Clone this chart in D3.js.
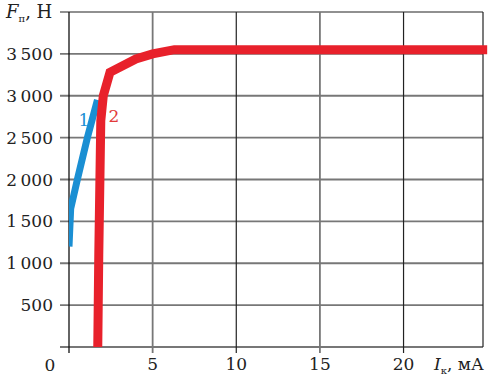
<!DOCTYPE html>
<html>
<head>
<meta charset="utf-8">
<script src="https://cdn.jsdelivr.net/npm/d3@7"></script>
<style>
  body { margin: 0; background: #fff; }
</style>
</head>
<body>
<script>
const width = 490, height = 380;

// curve 1 (blue) and curve 2 (red): I_k, mA -> F_p, N
const curve1I = [0, 0.1, 0.5, 1.1, 1.7];
const curve1F = [1200, 1650, 2000, 2500, 2950];
const curve2I = [1.72, 1.78, 1.9, 2.05, 2.45, 4, 5, 6.3, 25];
const curve2F = [0, 1100, 2700, 3000, 3280, 3440, 3500, 3550, 3550];

const xTicks = [5, 10, 15, 20];
const yTicks = [500, 1000, 1500, 2000, 2500, 3000, 3500];
const yTickLabels = ['500', '1\u2009000', '1\u2009500', '2\u2009000', '2\u2009500', '3\u2009000', '3\u2009500'];

const font = 'DejaVu Serif, Liberation Serif, serif';

const svg = d3.select('body').append('svg')
    .attr('width', width)
    .attr('height', height)
    .attr('font-family', font);

const x = d3.scaleLinear().domain([0, 24.75]).range([69, 483]);
const y = d3.scaleLinear().domain([0, 4000]).range([347, 12]);

svg.append('defs').append('clipPath').attr('id', 'clip')
  .append('rect').attr('x', 69).attr('y', 0).attr('width', 421).attr('height', 348);

// horizontal grid lines (with left tick)
svg.selectAll('.hgrid')
  .data([0].concat(yTicks).concat([4000]))
  .enter().append('line')
  .attr('x1', 60).attr('x2', x(24.75))
  .attr('y1', d => y(d)).attr('y2', d => y(d))
  .attr('stroke', d => d === 4000 ? '#222' : '#777')
  .attr('stroke-width', d => d === 4000 ? 1.2 : 1.8);

// vertical grid lines
svg.selectAll('.vgrid')
  .data(xTicks)
  .enter().append('line')
  .attr('x1', d => x(d)).attr('x2', d => x(d))
  .attr('y1', y(4000)).attr('y2', 353)
  .attr('stroke', (d, i) => i % 2 ? '#222' : '#777')
  .attr('stroke-width', (d, i) => i % 2 ? 1.2 : 1.8);

// right border
svg.append('line')
  .attr('x1', x(24.75)).attr('x2', x(24.75))
  .attr('y1', y(4000)).attr('y2', y(0))
  .attr('stroke', '#222').attr('stroke-width', 1.2);

// y axis line
svg.append('line')
  .attr('x1', x(0)).attr('x2', x(0))
  .attr('y1', y(4000)).attr('y2', 353)
  .attr('stroke', '#111').attr('stroke-width', 1.3);

// y tick labels
svg.selectAll('.ylab')
  .data(yTicks)
  .enter().append('text')
  .attr('x', 53).attr('y', d => y(d) + 6)
  .attr('text-anchor', 'end')
  .attr('font-size', 17)
  .attr('fill', '#222')
  .text((d, i) => yTickLabels[i]);

// x tick labels
svg.selectAll('.xlab')
  .data(xTicks)
  .enter().append('text')
  .attr('x', d => x(d)).attr('y', 370)
  .attr('text-anchor', 'middle')
  .attr('font-size', 17)
  .attr('fill', '#222')
  .text(d => d);

svg.append('text').attr('x', 50).attr('y', 371)
  .attr('text-anchor', 'middle').attr('font-size', 17).attr('fill', '#222').text('0');

// axis titles
const yt = svg.append('text').attr('x', 6).attr('y', 18).attr('font-size', 18).attr('fill', '#222');
yt.append('tspan').attr('font-style', 'italic').text('F');
yt.append('tspan').attr('font-size', 10).attr('dy', 4).text('п');
yt.append('tspan').attr('dy', -4).text(', Н');

const xt = svg.append('text').attr('x', 434).attr('y', 370).attr('font-size', 17).attr('fill', '#222');
xt.append('tspan').attr('font-style', 'italic').text('I');
xt.append('tspan').attr('font-size', 10).attr('dy', 4).text('к');
xt.append('tspan').attr('dy', -4).text(', мА');

const line = d3.line().x(d => x(d[0])).y(d => y(d[1]));

const g = svg.append('g').attr('clip-path', 'url(#clip)');

g.append('path')
  .attr('d', line(curve1I.map((v, i) => [v, curve1F[i]])))
  .attr('fill', 'none')
  .attr('stroke', '#1a8fd3')
  .attr('stroke-width', 7);

g.append('path')
  .attr('d', line(curve2I.map((v, i) => [v, curve2F[i]])))
  .attr('fill', 'none')
  .attr('stroke', '#e8212b')
  .attr('stroke-width', 9);

// curve numbers
svg.append('text').attr('x', 84).attr('y', 126)
  .attr('text-anchor', 'middle').attr('font-size', 17)
  .attr('fill', '#1a8fd3').text('1');
svg.append('text').attr('x', 114).attr('y', 122)
  .attr('text-anchor', 'middle').attr('font-size', 17)
  .attr('fill', '#e23a3a').text('2');
</script>
</body>
</html>
